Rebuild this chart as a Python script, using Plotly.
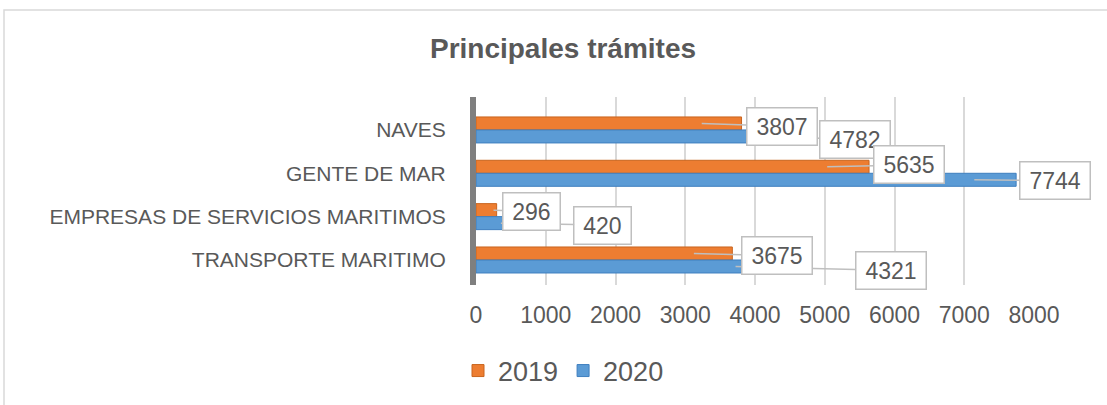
import plotly.graph_objects as go

categories = ["NAVES", "GENTE DE MAR", "EMPRESAS DE SERVICIOS MARITIMOS", "TRANSPORTE MARITIMO"]
values_2019 = [3807, 5635, 296, 3675]
values_2020 = [4782, 7744, 420, 4321]
x_ticks = [0, 1000, 2000, 3000, 4000, 5000, 6000, 7000, 8000]

# label offsets (pixels) from leader tip to label centre
off_2019 = [(80, 3), (82, -2), (38, 1), (83, 2)]
off_2020 = [(87, 3), (81, 1), (102, 2), (155, 4)]

W, H = 1107, 405
L, R, T, B = 476, 73, 97, 120
TXT = "#595959"
FONT = "Liberation Sans, Arial, sans-serif"

fig = go.Figure()
fig.add_trace(go.Bar(name="2019", y=categories, x=values_2019, orientation="h",
                     marker=dict(color="#ED7D31", line=dict(color="#C9651F", width=1))))
fig.add_trace(go.Bar(name="2020", y=categories, x=values_2020, orientation="h",
                     marker=dict(color="#5B9BD5", line=dict(color="#3F7FBF", width=1))))

def tip(v):
    return v - min(600, 0.15 * v)

annotations = []
half = 0.15
for series, vals, offs, sign in [("2020", values_2020, off_2020, +1), ("2019", values_2019, off_2019, -1)]:
    for i, (v, (dx, dy)) in enumerate(zip(vals, offs)):
        txt = str(v)
        annotations.append(dict(
            x=tip(v), y=i + sign * half, xref="x", yref="y",
            text=txt, showarrow=True, arrowhead=0, arrowwidth=1.5, arrowcolor="#BFBFBF",
            ax=dx, ay=dy, standoff=0,
            bgcolor="white", bordercolor="#BFBFBF", borderwidth=1.5, borderpad=3,
            width=13.3 * len(txt) + 10, height=30,
            font=dict(size=23, color=TXT, family=FONT),
        ))

pw = W - L - R
ph = H - T - B
def px2paper_x(px):
    return (px - L) / pw
def py2paper_y(py):
    return (H - B - py) / ph

fig.update_layout(
    width=W, height=H,
    margin=dict(l=L, r=R, t=T, b=B, autoexpand=False),
    paper_bgcolor="white", plot_bgcolor="white",
    barmode="group", bargap=0.4, bargroupgap=0,
    title=dict(text="<b>Principales trámites</b>", x=0.5086, xref="container", xanchor="center",
               y=1 - 48 / H, yref="container", yanchor="middle",
               font=dict(size=28, color=TXT, family=FONT)),
    font=dict(family=FONT, color=TXT),
    xaxis=dict(range=[0, 8000], tickvals=x_ticks, showgrid=True, gridcolor="#D9D9D9", gridwidth=2,
               zeroline=False, showline=False, ticks="", ticklabelstandoff=14,
               tickfont=dict(size=23, color=TXT, family=FONT), fixedrange=True),
    yaxis=dict(categoryorder="array", categoryarray=categories, range=[3.577, -0.76],
               showgrid=False, zeroline=False, showline=True, linecolor="#7F7F7F", linewidth=6,
               ticks="", ticklabelstandoff=20, tickfont=dict(size=21, color=TXT, family=FONT),
               fixedrange=True),
    legend=dict(orientation="h", x=px2paper_x(458), xanchor="left", y=py2paper_y(371), yanchor="middle",
                font=dict(size=27, color=TXT, family=FONT), itemwidth=30, bgcolor="rgba(0,0,0,0)"),
    showlegend=True,
    annotations=annotations,
    shapes=[dict(type="rect", xref="paper", yref="paper",
                 x0=px2paper_x(4), x1=px2paper_x(W + 5), y0=py2paper_y(10), y1=py2paper_y(H + 5),
                 line=dict(color="#D9D9D9", width=1.5), fillcolor="rgba(0,0,0,0)", layer="below")],
)

fig.write_html("out.html", config={"displayModeBar": False},
               post_script="document.body.style.margin='0';document.body.style.overflow='hidden';")
